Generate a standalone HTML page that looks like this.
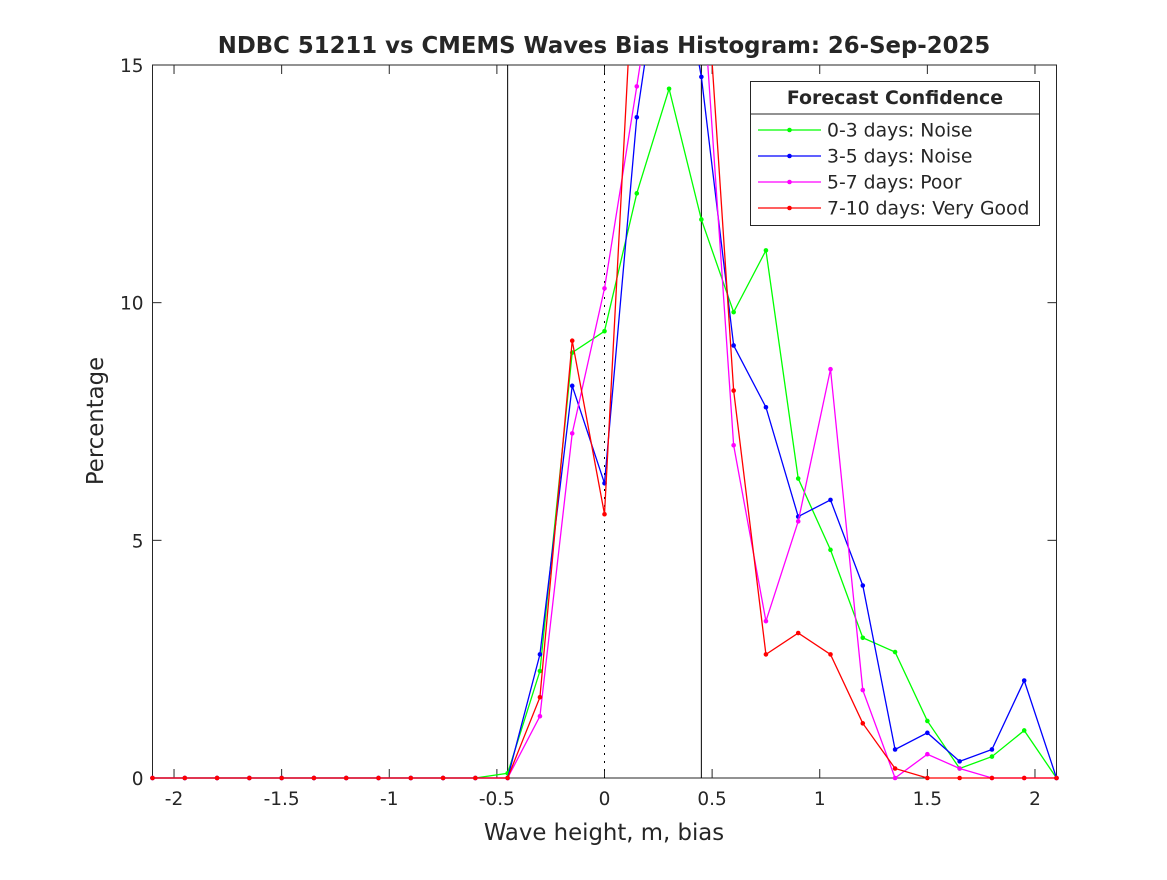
<!DOCTYPE html>
<html><head><meta charset="utf-8"><style>
body{margin:0;background:#fff}
svg text{font-family:"DejaVu Sans","Liberation Sans",sans-serif;fill:#262626}
</style></head><body>
<svg id="chart" width="1167" height="875" xmlns="http://www.w3.org/2000/svg">
<defs><clipPath id="clip"><rect x="149" y="65" width="911" height="716"/></clipPath></defs>
<rect width="1167" height="875" fill="#fff"/>
<g id="axes"></g>
<g id="series" clip-path="url(#clip)"></g>
<g id="legend"></g>
</svg>
<script>
const xCats=[-2.1,-1.95,-1.8,-1.65,-1.5,-1.35,-1.2,-1.05,-0.9,-0.75,-0.6,-0.45,-0.3,-0.15,0,0.15,0.3,0.45,0.6,0.75,0.9,1.05,1.2,1.35,1.5,1.65,1.8,1.95,2.1];
const green=[0,0,0,0,0,0,0,0,0,0,0,0.1,2.25,8.95,9.4,12.3,14.5,11.75,9.8,11.1,6.3,4.8,2.95,2.65,1.2,0.2,0.45,1.0,0];
const blue=[0,0,0,0,0,0,0,0,0,0,0,0,2.6,8.25,6.2,13.9,18.5,14.75,9.1,7.8,5.5,5.85,4.05,0.6,0.95,0.35,0.6,2.05,0];
const magenta=[0,0,0,0,0,0,0,0,0,0,0,0,1.3,7.25,10.3,14.55,19,17,7.0,3.3,5.4,8.6,1.85,0,0.5,0.2,0,0,0];
const red=[0,0,0,0,0,0,0,0,0,0,0,0,1.7,9.2,5.55,18.5,20,18.5,8.15,2.6,3.05,2.6,1.15,0.2,0,0,0,0,0];
const seriesNames=["0-3 days: Noise","3-5 days: Noise","5-7 days: Poor","7-10 days: Very Good"];
const xTicks=[-2,-1.5,-1,-0.5,0,0.5,1,1.5,2];
const xTickLabels=["-2","-1.5","-1","-0.5","0","0.5","1","1.5","2"];
const yTicks=[0,5,10,15];
const yTickLabels=["0","5","10","15"];
const vLines=[-0.45,0.45];

const NS="http://www.w3.org/2000/svg";
const L=152.5,R=1056.5,T=65,B=778;
const xs=v=>L+(v+2.1)/4.2*(R-L);
const ys=v=>B-v/15*(B-T);
function mk(tag,attrs,parent){const e=document.createElementNS(NS,tag);for(const k in attrs)e.setAttribute(k,attrs[k]);parent.appendChild(e);return e;}
const ax=document.getElementById('axes');
const bg=mk('rect',{x:L,y:T,width:R-L,height:B-T,fill:'#fff',stroke:'#262626','stroke-width':1},ax);


xTicks.forEach((t,i)=>{
  const x=xs(t);
  mk('line',{x1:x,x2:x,y1:B,y2:B-9,stroke:'#262626'},ax);
  mk('line',{x1:x,x2:x,y1:T,y2:T+9,stroke:'#262626'},ax);
  const tx=mk('text',{x:x,y:B+27,'text-anchor':'middle','font-size':18.5},ax);
  tx.textContent=xTickLabels[i];
  
  
});
yTicks.forEach((t,i)=>{
  const y=ys(t);
  mk('line',{x1:L,x2:L+9,y1:y,y2:y,stroke:'#262626'},ax);
  mk('line',{x1:R,x2:R-9,y1:y,y2:y,stroke:'#262626'},ax);
  const tx=mk('text',{x:L-9,y:y+7,'text-anchor':'end','font-size':18.5},ax);
  tx.textContent=yTickLabels[i];
  
  
});
vLines.forEach(v=>{
  const ln=mk('line',{x1:xs(v),x2:xs(v),y1:T,y2:B,stroke:'#000','stroke-width':1},ax);
  
  
});
const zl=mk('line',{x1:xs(0),x2:xs(0),y1:T,y2:B,stroke:'#000','stroke-width':1,'stroke-dasharray':'2,6'},ax);


const ti=mk('text',{x:604,y:53,'text-anchor':'middle','font-size':22.8,'font-weight':'bold',fill:'#000'},ax);
ti.textContent='NDBC 51211 vs CMEMS Waves Bias Histogram: 26-Sep-2025';


const xl=mk('text',{x:604,y:840,'text-anchor':'middle','font-size':22.8},ax);
xl.textContent='Wave height, m, bias';


const yl=mk('text',{x:0,y:0,'text-anchor':'middle','font-size':22.8,transform:'translate(103,421) rotate(-90)'},ax);
yl.textContent='Percentage';



const sg=document.getElementById('series');
const all=[green,blue,magenta,red];
const cols=['#00ff00','#0000ff','#ff00ff','#ff0000'];
const snames=['series-0-3-days','series-3-5-days','series-5-7-days','series-7-10-days'];
all.forEach((d,si)=>{
  const g=mk('g',{},sg);
  
  
  const pts=d.map((v,i)=>xs(xCats[i])+','+ys(v)).join(' ');
  mk('polyline',{points:pts,fill:'none',stroke:cols[si],'stroke-width':1.3},g);
  d.forEach((v,i)=>{
    const c=mk('circle',{cx:xs(xCats[i]),cy:ys(v),r:2.3,fill:cols[si]},g);
    
    
  });
});

const lg=document.getElementById('legend');


mk('rect',{x:750.5,y:81.5,width:289,height:144,fill:'#fff',stroke:'#262626'},lg);
mk('line',{x1:750.5,x2:1039.5,y1:114,y2:114,stroke:'#262626'},lg);
const lt=mk('text',{x:895,y:104,'text-anchor':'middle','font-size':18.9,'font-weight':'bold',fill:'#000'},lg);
lt.textContent='Forecast Confidence';


seriesNames.forEach((n,i)=>{
  const y=130+i*26;
  const e=mk('g',{},lg);
  
  
  mk('line',{x1:758,x2:821,y1:y,y2:y,stroke:cols[i],'stroke-width':1.3},e);
  mk('circle',{cx:789.5,cy:y,r:2.3,fill:cols[i]},e);
  const t=mk('text',{x:827,y:y+6.5,'font-size':18.8,fill:'#000'},e);
  t.textContent=n;
});
</script>
</body></html>
